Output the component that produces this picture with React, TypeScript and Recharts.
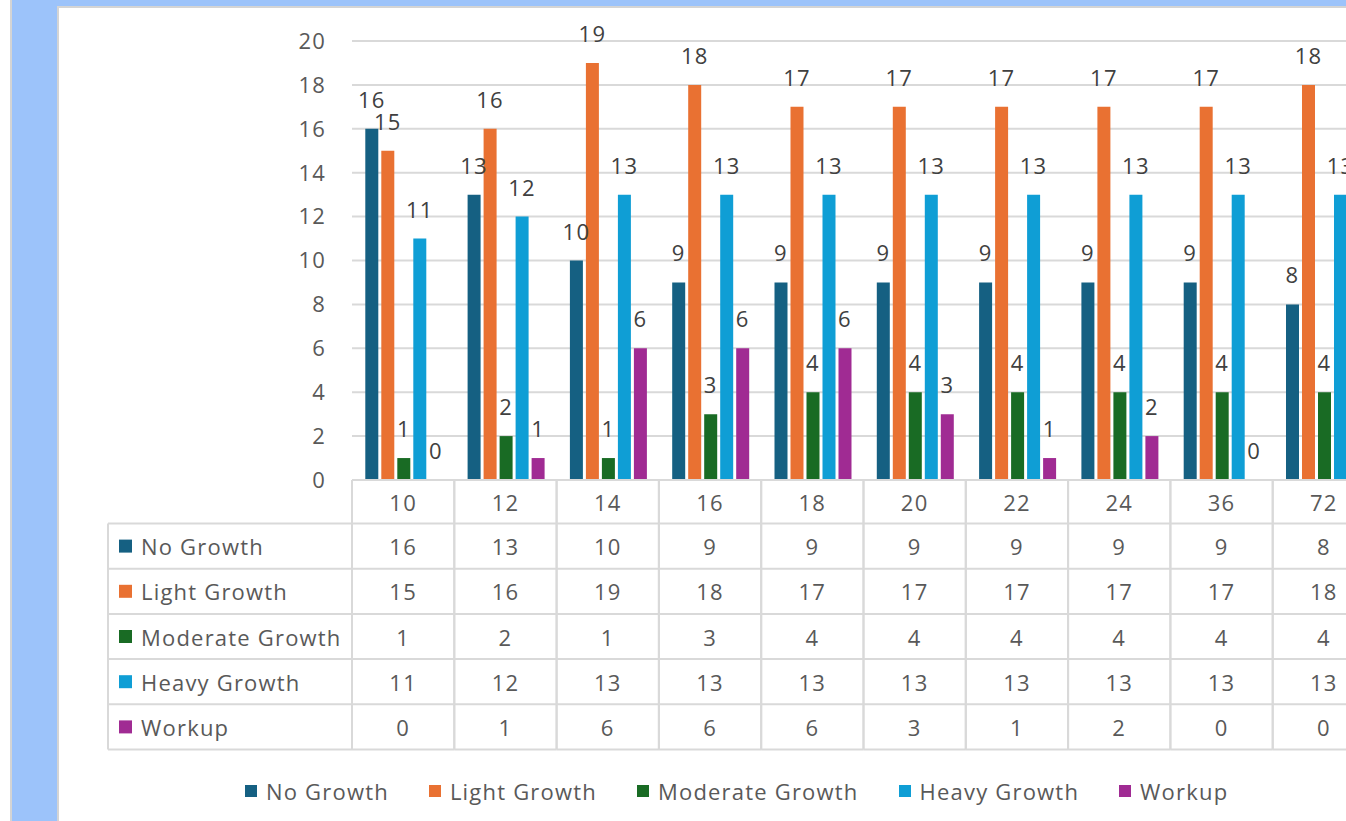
import { BarChart, Bar, XAxis, YAxis, CartesianGrid, LabelList, Legend } from "recharts"

// incubation time (hours) and counts per growth class
const hours = ["10", "12", "14", "16", "18", "20", "22", "24", "36", "72"]
const noGrowth = [16, 13, 10, 9, 9, 9, 9, 9, 9, 8]
const lightGrowth = [15, 16, 19, 18, 17, 17, 17, 17, 17, 18]
const moderateGrowth = [1, 2, 1, 3, 4, 4, 4, 4, 4, 4]
const heavyGrowth = [11, 12, 13, 13, 13, 13, 13, 13, 13, 13]
const workup = [0, 1, 6, 6, 6, 3, 1, 2, 0, 0]
const yTicks = [0, 2, 4, 6, 8, 10, 12, 14, 16, 18, 20]

const series = [
  { key: "noGrowth", name: "No Growth", color: "#156082", values: noGrowth },
  { key: "lightGrowth", name: "Light Growth", color: "#E97132", values: lightGrowth },
  { key: "moderateGrowth", name: "Moderate Growth", color: "#196B24", values: moderateGrowth },
  { key: "heavyGrowth", name: "Heavy Growth", color: "#0F9ED5", values: heavyGrowth },
  { key: "workup", name: "Workup", color: "#A02B93", values: workup },
]

const data = hours.map((h, i) => {
  const row: Record<string, string | number> = { hours: h }
  series.forEach((s) => (row[s.key] = s.values[i]))
  return row
})

const FONT = "'Open Sans', 'Noto Sans', sans-serif"
const TEXT = "#595959"
const GRID = "#D9D9D9"
const FS = 22
const LS = 1.2

const CHART_W = 1400
const CHART_H = 821
const PLOT_LEFT = 352
const PLOT_RIGHT = 1375
const PLOT_TOP = 41
const PLOT_BOTTOM = 480
const COL_W = (PLOT_RIGHT - PLOT_LEFT) / hours.length
const HEAD_H = 43.5
const ROW_H = 45.2
const TABLE_LEFT = 108

const textProps = { fill: TEXT, fontSize: FS, fontFamily: FONT, letterSpacing: LS }

function RowHeaders({ y, right }: { y: number; right: number }) {
  const bottom = y + HEAD_H + ROW_H * series.length
  return (
    <g>
      {series.map((s, r) => {
        const top = y + HEAD_H + ROW_H * r
        const mid = top + ROW_H / 2
        return (
          <g key={s.key}>
            <line x1={TABLE_LEFT} x2={right} y1={top} y2={top} stroke={GRID} strokeWidth={2} />
            <rect x={119} y={mid - 6.5} width={13} height={13} fill={s.color} />
            <text x={141} y={mid} dominantBaseline="central" {...textProps}>
              {s.name}
            </text>
          </g>
        )
      })}
      <line x1={TABLE_LEFT} x2={right} y1={bottom} y2={bottom} stroke={GRID} strokeWidth={2} />
      <line x1={TABLE_LEFT} x2={TABLE_LEFT} y1={y + HEAD_H} y2={bottom} stroke={GRID} strokeWidth={2} />
    </g>
  )
}

// each x tick draws one column of the data table under the plot
function TableColumn(props: any) {
  const { x, y, payload } = props
  const idx = hours.indexOf(String(payload.value))
  const left = x - COL_W / 2
  const right = x + COL_W / 2
  const bottom = y + HEAD_H + ROW_H * series.length
  return (
    <g>
      <line x1={left} x2={left} y1={y} y2={bottom} stroke={GRID} strokeWidth={2} />
      <line x1={right} x2={right} y1={y} y2={bottom} stroke={GRID} strokeWidth={2} />
      <text x={x} y={y + HEAD_H / 2} textAnchor="middle" dominantBaseline="central" {...textProps}>
        {payload.value}
      </text>
      {series.map((s, r) => {
        const top = y + HEAD_H + ROW_H * r
        return (
          <g key={s.key}>
            <line x1={left} x2={right} y1={top} y2={top} stroke={GRID} strokeWidth={2} />
            <text x={x} y={top + ROW_H / 2} textAnchor="middle" dominantBaseline="central" {...textProps}>
              {s.values[idx]}
            </text>
          </g>
        )
      })}
      <line x1={left} x2={right} y1={bottom} y2={bottom} stroke={GRID} strokeWidth={2} />
      {idx === 0 && <RowHeaders y={y} right={left} />}
    </g>
  )
}

// value label above a bar, zero values included
function BarValue(props: any) {
  const { x, y, width, value } = props
  if (value == null) return null
  return (
    <text x={Number(x) + Number(width) / 2} y={Number(y) - 21} textAnchor="middle" {...textProps} fill="#404040">
      {value}
    </text>
  )
}

function LegendRow() {
  return (
    <div
      style={{
        display: "flex",
        gap: 40,
        fontFamily: FONT,
        fontSize: FS,
        letterSpacing: LS,
        color: TEXT,
        whiteSpace: "nowrap",
      }}
    >
      {series.map((s) => (
        <div key={s.key} style={{ display: "flex", alignItems: "center" }}>
          <span style={{ width: 12, height: 12, background: s.color, marginRight: 9, display: "inline-block" }} />
          <span>{s.name}</span>
        </div>
      ))}
    </div>
  )
}

export default function App() {
  return (
    <div
      style={{
        position: "fixed",
        left: 0,
        top: 0,
        width: 1346,
        height: 821,
        overflow: "hidden",
        background: "#9CC3FA",
      }}
    >
      <div
        style={{
          position: "absolute",
          left: 0,
          top: 0,
          width: 10,
          height: 821,
          background: "#fff",
          borderRight: "2px solid #D4D4D4",
        }}
      />
      <div
        style={{
          position: "absolute",
          left: 57,
          top: 6,
          width: 1400,
          height: 900,
          background: "#fff",
          borderLeft: "2px solid #D4D4D4",
          borderTop: "2px solid #D4D4D4",
        }}
      />
      <div style={{ position: "absolute", left: 0, top: 0 }}>
        <BarChart
          width={CHART_W}
          height={CHART_H}
          data={data}
          margin={{ top: PLOT_TOP, right: CHART_W - PLOT_RIGHT, bottom: 0, left: 0 }}
          barCategoryGap="13%"
          barGap={3}
        >
          <CartesianGrid vertical={false} stroke={GRID} strokeWidth={2} />
          <YAxis
            domain={[0, 20]}
            ticks={yTicks}
            interval={0}
            width={PLOT_LEFT}
            axisLine={false}
            tickLine={false}
            tickSize={0}
            tickMargin={26}
            tick={{ fill: TEXT, fontSize: FS, fontFamily: FONT, letterSpacing: LS }}
          />
          <XAxis
            dataKey="hours"
            height={CHART_H - PLOT_BOTTOM}
            interval={0}
            tickSize={0}
            tickMargin={0}
            tickLine={false}
            axisLine={{ stroke: GRID, strokeWidth: 2 }}
            tick={(p: any) => <TableColumn {...p} />}
          />
          <Legend
            verticalAlign="middle"
            align="center"
            layout="horizontal"
            wrapperStyle={{ top: 776, left: 245, width: "auto" }}
            content={() => <LegendRow />}
          />
          {series.map((s) => (
            // tiny minPointSize keeps zero-value bars (and their labels) in the layout
            <Bar
              key={s.key}
              dataKey={s.key}
              name={s.name}
              fill={s.color}
              minPointSize={0.01}
              isAnimationActive={false}
            >
              <LabelList dataKey={s.key} content={(p: any) => <BarValue {...p} />} />
            </Bar>
          ))}
        </BarChart>
      </div>
    </div>
  )
}
